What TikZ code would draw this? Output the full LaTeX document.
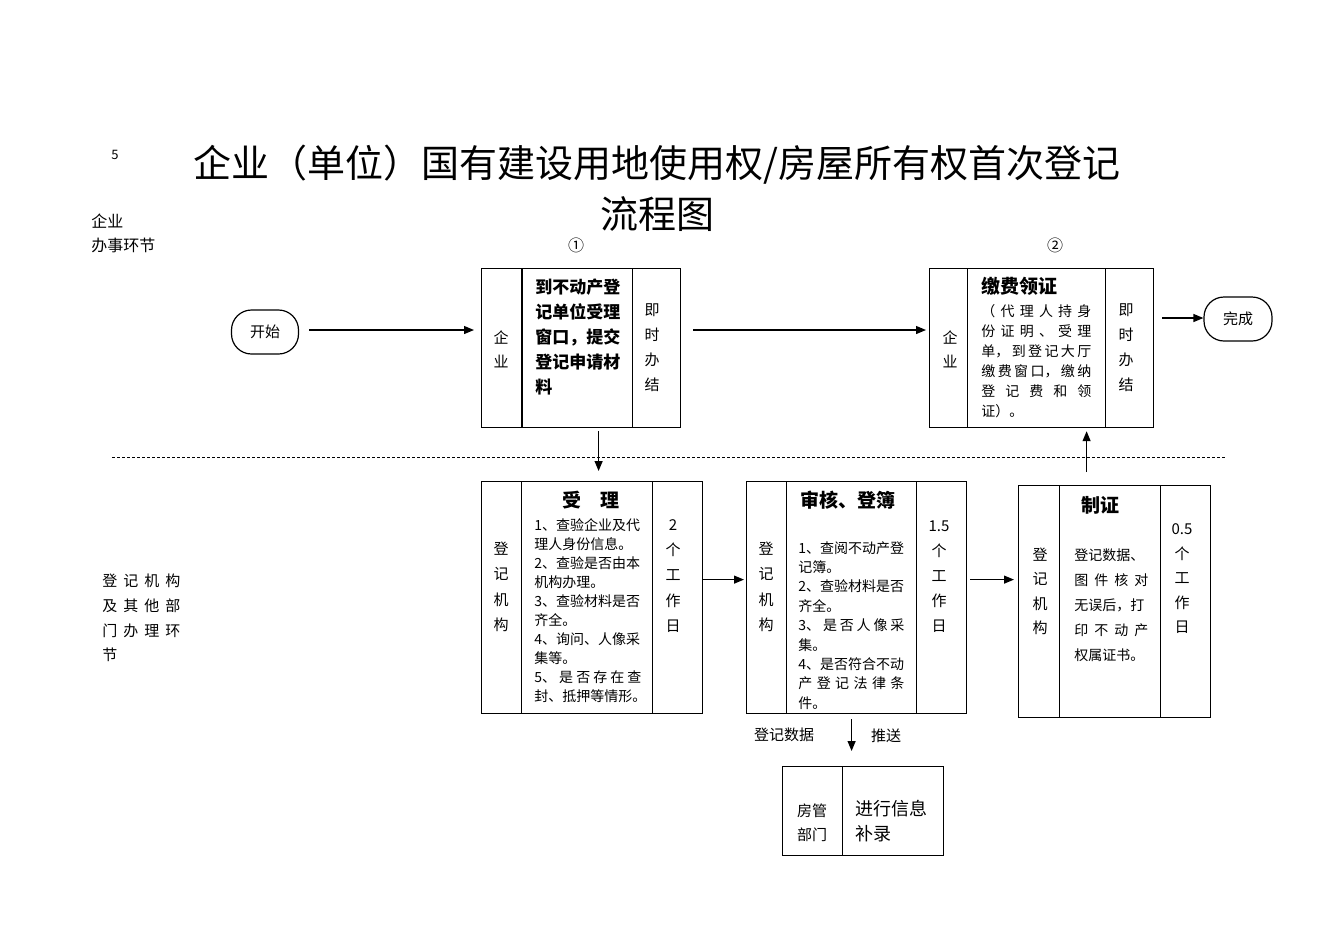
\documentclass[tikz,border=0pt]{standalone}
\usepackage{fontspec}
\setmainfont{Noto Sans CJK SC}
\usepackage{tikz}
\usetikzlibrary{arrows.meta}
\tikzstyle{cell} = [draw=black, line width=.6pt, anchor=north west, inner sep=0pt]
\tikzstyle{oval} = [draw=black, line width=.6pt, rounded corners=10pt, minimum width=33.5pt, minimum height=22pt, font=\fontsize{7.5pt}{9pt}\selectfont]
\tikzstyle{arr} = [-{Triangle[length=5pt,width=4pt]}, line width=.6pt]
\tikzstyle{txt} = [inner sep=0pt, align=left, anchor=north west]
\tikzstyle{col} = [inner sep=0pt, align=center]
\newcommand{\fs}[2]{\fontsize{#1}{#2}\selectfont}
\newcommand{\pcell}[5]{\node [cell, minimum width=#4*.5pt, minimum height=#5*.5pt] (#1) at (#2,#3) {};}
\newcommand{\jl}[2]{\makebox[#1][s]{#2}}

\begin{document}
\begin{tikzpicture}[x=.5pt, y=-.5pt]%
	\useasboundingbox (0,0) rectangle (1335,944);%
	% title and side labels
	\node [col, font=\fs{6.5pt}{8pt}] (num) at (115,155) {5};%
	\node [col, font=\fs{19pt}{22pt}] (title) at (657,165) {企业（单位）国有建设用地使用权/房屋所有权首次登记};%
	\node [col, font=\fs{19pt}{22pt}] (title2) at (657,214) {流程图};%
	\node [txt, font=\fs{8pt}{12pt}] (lbcorp) at (91,214) {企业\\办事环节};%
	\node [txt, font=\fs{7.5pt}{12.4pt}] (lbdept) at (102,573.5) {\jl{39pt}{登 记 机 构}\\\jl{39pt}{及 其 他 部}\\\jl{39pt}{门 办 理 环}\\节};%
	\node [col, font=\fs{8pt}{9pt}] (one) at (576,245) {①};%
	\node [col, font=\fs{8pt}{9pt}] (two) at (1055,245) {②};%
	\draw [dashed, dash pattern=on 1.5pt off 1pt, line width=.4pt] (112,457) -- (1226,457);%
	% start and end
	\node [oval] (start) at (265,332) {开始};%
	\node [oval, minimum width=34pt] (done) at (1238,319) {完成};%
	% step 1
	\pcell{b1l}{481}{268}{41}{159}%
	\pcell{b1m}{522}{268}{110}{159}%
	\pcell{b1r}{632}{268}{48}{159}%
	\draw [line width=1.2pt] (b1m.north west) -- (b1m.south west);%
	\node [col, font=\fs{7.5pt}{12pt}] (t1l) at (501,349) {企\\业};%
	\node [txt, font=\fs{8.5pt}{12.5pt}\bfseries] (t1m) at (535,278.5) {到不动产登\\记单位受理\\窗口，提交\\登记申请材\\料};%
	\node [col, font=\fs{7.5pt}{12.5pt}] (t1r) at (652,348) {即\\时\\办\\结};%
	% step 2
	\pcell{b2l}{929}{268}{38}{159}%
	\pcell{b2m}{967}{268}{138}{159}%
	\pcell{b2r}{1105}{268}{48}{159}%
	\node [col, font=\fs{7.5pt}{12pt}] (t2l) at (950,349) {企\\业};%
	\node [txt, font=\fs{9.5pt}{11pt}\bfseries] (h2m) at (981,276.5) {缴费领证};%
	\node [txt, font=\fs{7pt}{10pt}] (t2m) at (981,304) {\jl{55pt}{（ 代 理 人 持 身}\\\jl{55pt}{份 证 明 、 受 理}\\\jl{55pt}{单， 到 登 记 大 厅}\\\jl{55pt}{缴 费 窗 口， 缴 纳}\\\jl{55pt}{登 记 费 和 领}\\证）。};%
	\node [col, font=\fs{7.5pt}{12.5pt}] (t2r) at (1126,348) {即\\时\\办\\结};%
	% step 3
	\pcell{b3l}{481}{481}{40}{232}%
	\pcell{b3m}{521}{481}{131}{232}%
	\pcell{b3r}{652}{481}{50}{232}%
	\node [col, font=\fs{7.5pt}{12.7pt}] (t3l) at (501,587) {登\\记\\机\\构};%
	\node [col, font=\fs{9.5pt}{11pt}\bfseries] (h3m) at (591,500) {受　理};%
	\node [txt, font=\fs{7pt}{9.5pt}] (t3m) at (534,518) {1、查验企业及代\\理人身份信息。\\2、查验是否由本\\机构办理。\\3、查验材料是否\\齐全。\\4、询问、人像采\\集等。\\\jl{53.5pt}{5、 是 否 存 在 查}\\封、抵押等情形。};%
	\node [col, font=\fs{7.5pt}{12.6pt}] (t3r) at (673,576) {2\\个\\工\\作\\日};%
	% step 4
	\pcell{b4l}{746}{481}{40}{232}%
	\pcell{b4m}{786}{481}{130}{232}%
	\pcell{b4r}{916}{481}{50}{232}%
	\node [col, font=\fs{7.5pt}{12.7pt}] (t4l) at (766,587) {登\\记\\机\\构};%
	\node [txt, font=\fs{9.5pt}{11pt}\bfseries] (h4m) at (800,490.5) {审核、登簿};%
	\node [txt, font=\fs{7pt}{9.7pt}] (t4m) at (798,541) {1、查阅不动产登\\记簿。\\2、查验材料是否\\齐全。\\\jl{53pt}{3、 是 否 人 像 采}\\集。\\4、是否符合不动\\\jl{53pt}{产 登 记 法 律 条}\\件。};%
	\node [col, font=\fs{7.5pt}{12.5pt}] (t4r) at (939,577) {1.5\\个\\工\\作\\日};%
	% step 5
	\pcell{b5l}{1018}{485}{41}{232}%
	\pcell{b5m}{1059}{485}{101}{232}%
	\pcell{b5r}{1160}{485}{50}{232}%
	\node [col, font=\fs{7.5pt}{12.25pt}] (t5l) at (1040,591.5) {登\\记\\机\\构};%
	\node [col, font=\fs{9.5pt}{11pt}\bfseries] (h5m) at (1100,505) {制证};%
	\node [txt, font=\fs{7pt}{12.5pt}] (t5m) at (1074,548) {登记数据、\\\jl{37pt}{图 件 核 对}\\无误后，打\\\jl{37pt}{印 不 动 产}\\权属证书。};%
	\node [col, font=\fs{7.5pt}{12.25pt}] (t5r) at (1182,579) {0.5\\个\\工\\作\\日};%
	% housing dept
	\pcell{b6l}{782}{766}{60}{89}%
	\pcell{b6r}{842}{766}{101}{89}%
	\node [col, font=\fs{7.5pt}{12pt}] (t6l) at (812,823) {房管\\部门};%
	\node [txt, font=\fs{9pt}{12.5pt}] (t6r) at (855,800) {进行信息\\补录};%
	\node [col, font=\fs{7.5pt}{9pt}] (lbdata) at (784,735) {登记数据};%
	\node [col, font=\fs{7.5pt}{9pt}] (lbpush) at (886,736) {推送};%
	% connectors
	\draw [arr, shorten <=5pt, shorten >=3.5pt] ([yshift=1pt]start.east) -- ([yshift=1pt]start.east -| b1l.west);%
	\draw [arr, shorten <=6pt, shorten >=1.5pt] ([yshift=1pt]start.east -| b1r.east) -- ([yshift=1pt]start.east -| b2l.west);%
	\draw [arr, shorten <=4pt] ([yshift=.5pt]done.west -| b2r.east) -- ([yshift=.5pt]done.west);%
	\draw [arr, shorten <=1.5pt, shorten >=5pt] ([xshift=10.5pt]b1m.south) -- ([xshift=10.5pt]b1m.south |- b3m.north);%
	\draw [arr, shorten >=1pt] ([yshift=9pt]b3r.east) -- ([yshift=9pt]b4l.west);%
	\draw [arr, shorten <=1.5pt, shorten >=2pt] ([yshift=9pt]b4r.east) -- ([yshift=9pt]b4r.east -| b5l.west);%
	\draw [arr, shorten <=6.5pt, shorten >=1.5pt] ([xshift=-11.75pt]b5m.north) -- ([xshift=-11.75pt]b5m.north |- b2m.south);%
	\draw [arr, shorten <=2.5pt, shorten >=7.5pt] (b4m.south) -- (b4m.south |- b6r.north);%
\end{tikzpicture}
\end{document}
